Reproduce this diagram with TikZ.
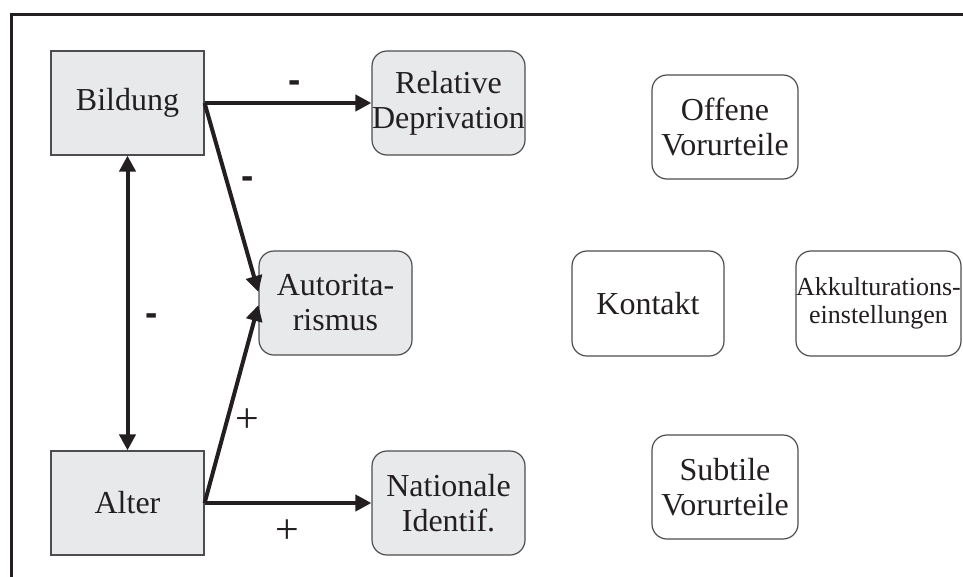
\documentclass[tikz,border=0pt]{standalone}
\usepackage{fontspec}
\setmainfont{Liberation Serif}
\newfontfamily\signfont{Liberation Sans}
\usetikzlibrary{arrows.meta}
\definecolor{ink}{HTML}{231F20}
\definecolor{boxfill}{HTML}{E8E9EB}
\definecolor{boxline}{HTML}{4D4D4F}
\begin{document}
\begin{tikzpicture}[x=1pt,y=-1pt,
  base/.style={draw=boxline, line width=1.2pt, text=ink, align=center, inner sep=0pt,
    font=\fontsize{32}{35}\selectfont},
  factor/.style={base, fill=boxfill, minimum width=153pt, minimum height=104pt},
  mediator/.style={base, fill=boxfill, rounded corners=15pt, minimum width=153pt, minimum height=104pt},
  outcome/.style={base, fill=white, rounded corners=15pt, minimum width=146pt, minimum height=104pt},
  effect/.style={draw=ink, line width=4pt, -{Triangle[length=16pt,width=16pt]}},
  mutual/.style={draw=ink, line width=4pt, {Triangle[length=16pt,width=16pt]}-{Triangle[length=16pt,width=16pt]}},
  minussign/.style={text=ink, inner sep=0pt, font=\signfont\bfseries\fontsize{37}{40}\selectfont},
  plussign/.style={text=ink, inner sep=0pt, font=\fontsize{42}{44}\selectfont}
]
\useasboundingbox (0,0) rectangle (963,576);

% outer frame
\draw[ink, line width=3pt] (11,580) -- (11,14) -- (970,14);

% predictors
\node[factor] (bildung) at (127.5,103) {Bildung};
\node[factor] (alter)   at (127.5,503) {Alter};

% mediators
\node[mediator] (depriv) at (448.5,103) {Relative\\Deprivation};
\node[mediator] (autor)  at (335.5,303) {Autorita-\\rismus};
\node[mediator] (nation) at (448.5,503) {Nationale\\Identif.};

% outcomes and further variables
\node[outcome] (offen)  at (725,127) {Offene\\Vorurteile};
\node[outcome, minimum width=152pt, minimum height=105pt] (kontakt) at (648,303.5) {Kontakt};
\node[outcome, minimum width=165pt, minimum height=105pt,
      font=\fontsize{26}{28}\selectfont] (akk) at (878.5,303.5) {Akkulturations-\\einstellungen};
\node[outcome] (subtil) at (725,487) {Subtile\\Vorurteile};

% effects
\draw[effect] (bildung.east) -- (depriv.west);
\draw[effect] (bildung.east) -- ([yshift=11pt]autor.west);
\draw[effect] (alter.east) -- ([yshift=-2pt]autor.west);
\draw[effect] (alter.east) -- (nation.west);
\draw[mutual] (bildung.south) -- (alter.north);

% signs of the effects
\node[minussign] (s1) at (295,87) {-};
\node[minussign] (s2) at (248,183) {-};
\node[minussign] (s3) at (152,320) {-};
\node[plussign]  (s4) at (247,421) {+};
\node[plussign]  (s5) at (287,532) {+};
\end{tikzpicture}
\end{document}
